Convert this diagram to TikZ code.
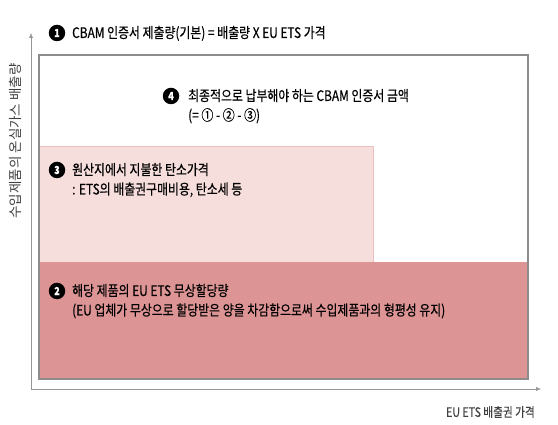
\documentclass[tikz,border=0pt]{standalone}
\usepackage{fontspec}
\setmainfont{Noto Sans CJK KR}[FakeStretch=0.82, FakeBold=0.35]
\newfontfamily\krwide{Noto Sans CJK KR}
\usepackage{tikz}
\usetikzlibrary{arrows.meta}
\usetikzlibrary{positioning}
\definecolor{cpink}{RGB}{246,222,220}
\definecolor{cred}{RGB}{221,148,148}
\definecolor{cframe}{RGB}{140,140,140}
\definecolor{caxis}{RGB}{150,150,150}

\tikzset{
  num/.style={circle, fill=black, text=white, inner sep=0pt, minimum size=16.5pt,
    font=\bfseries\fontsize{11}{11}\selectfont},
  boxtext/.style={anchor=base west, align=left, inner sep=0pt,
    font=\fontsize{14.5}{19.5}\selectfont},
  axislabel/.style={text=black!75, inner sep=0pt},
  axisline/.style={caxis, thin, -{Latex[length=5pt, width=4pt]}},
}

\begin{document}
\begin{tikzpicture}[x=1pt, y=1pt]
  \useasboundingbox (0, 0) rectangle (558, 425);

  \coordinate (origin) at (31, 36);
  \coordinate (ytip) at (31, 392);
  \coordinate (xtip) at (541, 36);
  \draw [axisline] (origin) -- (ytip);
  \draw [axisline] (origin) -- (xtip);
  \node [axislabel, rotate=90, font=\krwide\fontsize{13.5}{13.5}\selectfont] (ylab) at (15, 284) {수입제품의 온실가스 배출량};
  \node [axislabel, anchor=east, font=\fontsize{13}{13}\selectfont] (xlab) at (535, 13) {EU ETS 배출권 가격};

  \fill [white] (39, 46) rectangle (528, 370);
  \draw [fill=cpink, draw=cred!60] (39, 163) rectangle (373, 279);
  \fill [cred] (39, 46) rectangle (528, 163);
  \draw [cframe, line width=2.5pt] (39, 46) rectangle (528, 370);

  % base of a two-line node is its last line
  \node [num] (n1) at (57, 392) {1};
  \node [boxtext] (t1) at (72, 387) {CBAM 인증서 제출량(기본) = 배출량 X EU ETS 가격};

  \node [num] (n4) at (171, 329) {4};
  \node [boxtext] (t4) at (188, 304.5) {최종적으로 납부해야 하는 CBAM 인증서 금액\\(= ① - ② - ③)};

  \node [num] (n3) at (57, 255) {3};
  \node [boxtext] (t3) at (72, 230.5) {원산지에서 지불한 탄소가격\\: ETS의 배출권구매비용, 탄소세 등};

  \node [num] (n2) at (57, 134) {2};
  \node [boxtext] (t2) at (72, 109.5) {해당 제품의 EU ETS 무상할당량\\(EU 업체가 무상으로 할당받은 양을 차감함으로써 수입제품과의 형평성 유지)};
\end{tikzpicture}
\end{document}
